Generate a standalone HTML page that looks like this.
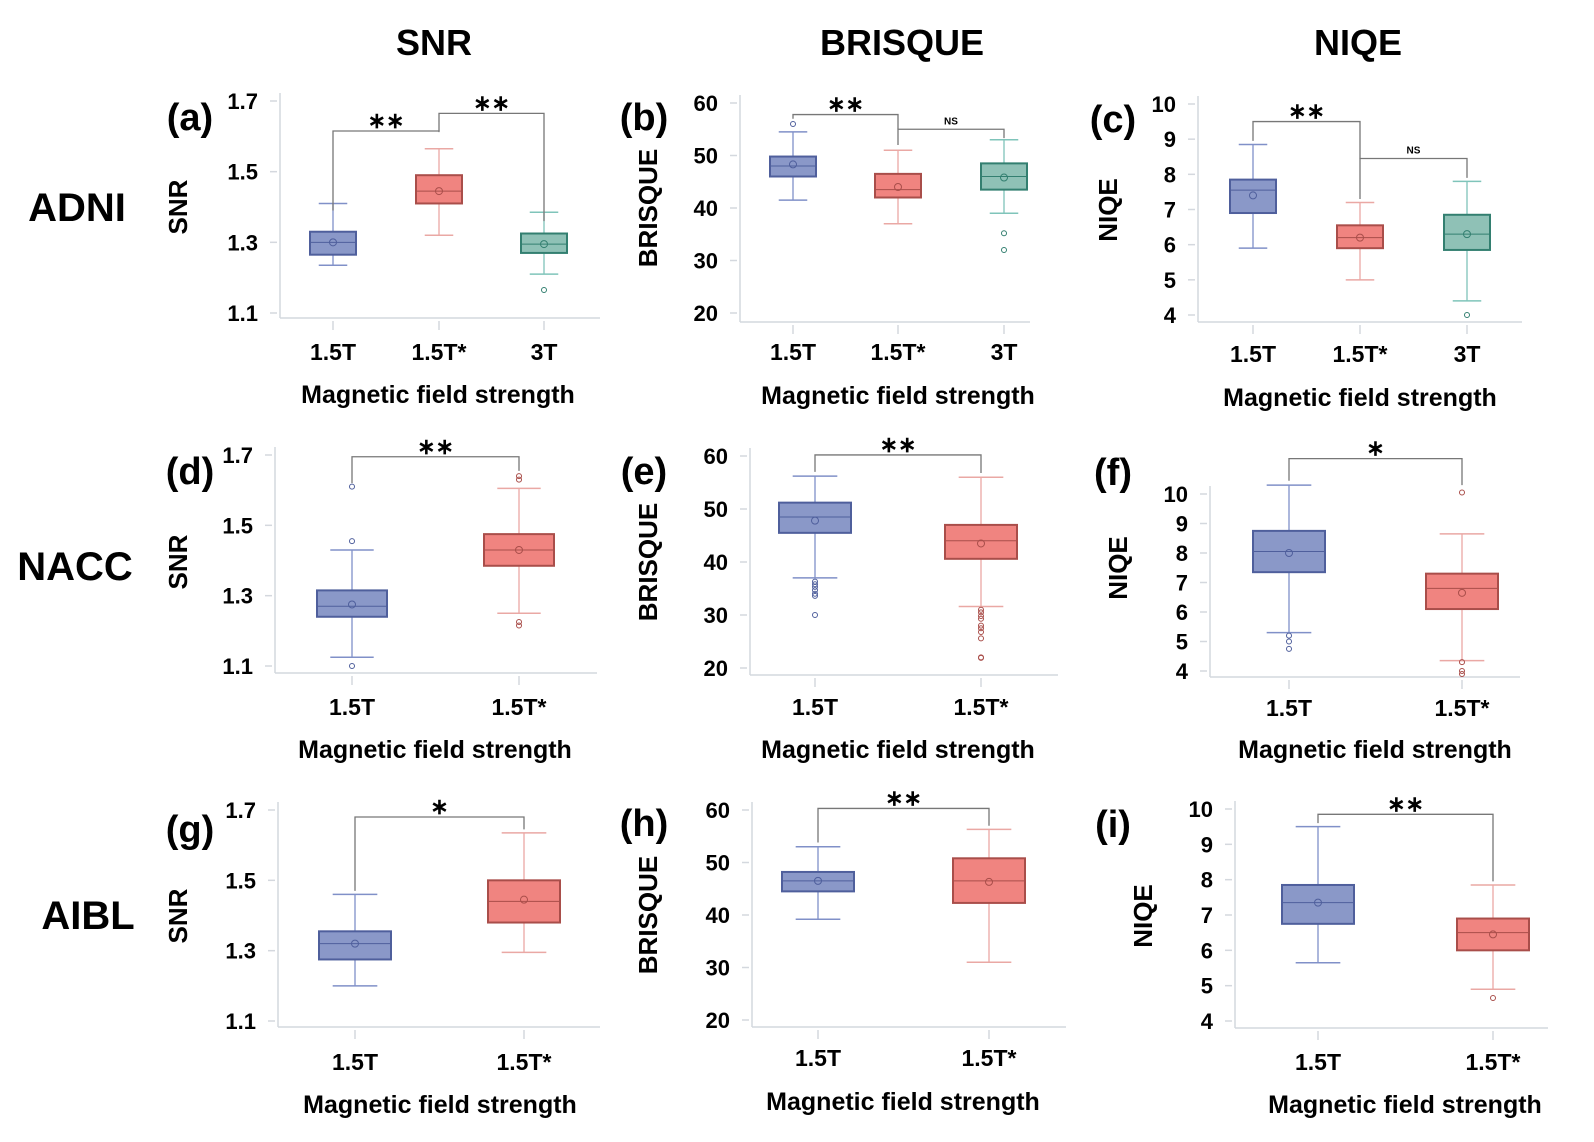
<!DOCTYPE html>
<html><head><meta charset="utf-8">
<style>
html,body{margin:0;padding:0;background:#fff;}
svg{display:block;font-family:"Liberation Sans",Arial,sans-serif;}
</style></head>
<body>
<svg id="fig" width="1594" height="1142" viewBox="0 0 1594 1142" xmlns="http://www.w3.org/2000/svg">
  <text x="434" y="55" text-anchor="middle" font-size="36" font-weight="bold">SNR</text>
  <text x="902" y="55" text-anchor="middle" font-size="36" font-weight="bold">BRISQUE</text>
  <text x="1358" y="55" text-anchor="middle" font-size="36" font-weight="bold">NIQE</text>
  <text x="77" y="221" text-anchor="middle" font-size="40" font-weight="bold">ADNI</text>
  <text x="75" y="580" text-anchor="middle" font-size="40" font-weight="bold">NACC</text>
  <text x="88" y="929" text-anchor="middle" font-size="40" font-weight="bold">AIBL</text>
</svg>
<script>
// ---- data ----
const catsA = ["1.5T","1.5T*","3T"];
const loA=[1.235,1.32,1.21], q1A=[1.265,1.41,1.27], medA=[1.30,1.445,1.295], q3A=[1.33,1.49,1.325], hiA=[1.41,1.565,1.385], meanA=[1.30,1.445,1.295];
const outA=[[],[],[1.165]];
const brA=[[0,1,1.615,1.39,1.612,"**"],[1,2,1.665,1.615,1.36,"**"]];

const catsB = ["1.5T","1.5T*","3T"];
const loB=[41.5,37,39], q1B=[46,42,43.5], medB=[48,43.5,46], q3B=[49.8,46.5,48.5], hiB=[54.5,51,53], meanB=[48.3,44,45.8];
const outB=[[56],[],[35.2,32]];
const brB=[[0,1,57.8,57,55,"**"],[1,2,55,52,53.3,"NS"]];

const catsC = ["1.5T","1.5T*","3T"];
const loC=[5.9,5.0,4.4], q1C=[6.9,5.9,5.85], medC=[7.55,6.2,6.3], q3C=[7.85,6.55,6.85], hiC=[8.85,7.2,7.8], meanC=[7.4,6.2,6.3];
const outC=[[],[],[4.0]];
const brC=[[0,1,9.5,8.95,8.45,"**"],[1,2,8.45,7.3,7.9,"NS"]];

const catsD = ["1.5T","1.5T*"];
const loD=[1.125,1.25], q1D=[1.24,1.385], medD=[1.27,1.43], q3D=[1.315,1.475], hiD=[1.43,1.605], meanD=[1.275,1.43];
const outD=[[1.455,1.61,1.10],[1.64,1.63,1.225,1.215]];
const brD=[[0,1,1.695,1.62,1.655,"**"]];

const catsE = ["1.5T","1.5T*"];
const loE=[37,31.6], q1E=[45.5,40.6], medE=[48.5,44], q3E=[51.2,47], hiE=[56.2,56], meanE=[47.8,43.5];
const outE=[[36.3,35.8,35.3,34.7,34,33.6,30],[31,30.5,29.8,29.3,28,27.5,26.8,25.6,22,21.9]];
const brE=[[0,1,60.2,57,56.8,"**"]];

const catsF = ["1.5T","1.5T*"];
const loF=[5.3,4.35], q1F=[7.35,6.1], medF=[8.05,6.8], q3F=[8.75,7.3], hiF=[10.3,8.65], meanF=[8.0,6.65];
const outF=[[5.2,5.0,4.75],[10.05,4.3,4.0,3.9]];
const brF=[[0,1,11.2,10.45,10.3,"*"]];

const catsG = ["1.5T","1.5T*"];
const loG=[1.2,1.295], q1G=[1.275,1.38], medG=[1.32,1.44], q3G=[1.355,1.5], hiG=[1.46,1.635], meanG=[1.32,1.445];
const outG=[[],[]];
const brG=[[0,1,1.68,1.47,1.645,"*"]];

const catsH = ["1.5T","1.5T*"];
const loH=[39.2,31], q1H=[44.5,42.3], medH=[46.5,46.5], q3H=[48.2,50.8], hiH=[53,56.3], meanH=[46.5,46.3];
const outH=[[],[]];
const brH=[[0,1,60.3,53.8,57,"**"]];

const catsI = ["1.5T","1.5T*"];
const loI=[5.65,4.9], q1I=[6.75,6.0], medI=[7.35,6.5], q3I=[7.85,6.9], hiI=[9.5,7.85], meanI=[7.35,6.45];
const outI=[[],[4.65]];
const brI=[[0,1,9.85,9.6,7.95,"**"]];

const ticksSNR=[1.1,1.3,1.5,1.7], ticksBR=[20,30,40,50,60], ticksNQ=[4,5,6,7,8,9,10];

// ---- layout (pixels) ----
const panels=[
 {id:"a",cats:catsA,lo:loA,q1:q1A,med:medA,q3:q3A,hi:hiA,mean:meanA,out:outA,br:brA,ticks:ticksSNR,fmt:1,ylabel:"SNR",
  v0:1.1,p0:313,v1:1.7,p1:101,ax:280,bottom:318,right:600,xs:[333,439,544],bw:46,lx:190,ly:116,tx:178,ty:207,xl:352,xt:395,xc:438},
 {id:"b",cats:catsB,lo:loB,q1:q1B,med:medB,q3:q3B,hi:hiB,mean:meanB,out:outB,br:brB,ticks:ticksBR,fmt:0,ylabel:"BRISQUE",
  v0:20,p0:313,v1:60,p1:103,ax:740,bottom:322,right:1030,xs:[793,898,1004],bw:46,lx:644,ly:116,tx:648,ty:208,xl:352,xt:396,xc:898},
 {id:"c",cats:catsC,lo:loC,q1:q1C,med:medC,q3:q3C,hi:hiC,mean:meanC,out:outC,br:brC,ticks:ticksNQ,fmt:0,ylabel:"NIQE",
  v0:4,p0:315,v1:10,p1:104,ax:1198,bottom:322,right:1522,xs:[1253,1360,1467],bw:46,lx:1113,ly:118,tx:1108,ty:210,xl:354,xt:398,xc:1360},
 {id:"d",cats:catsD,lo:loD,q1:q1D,med:medD,q3:q3D,hi:hiD,mean:meanD,out:outD,br:brD,ticks:ticksSNR,fmt:1,ylabel:"SNR",
  v0:1.1,p0:666,v1:1.7,p1:455,ax:275,bottom:673,right:597,xs:[352,519],bw:70,lx:190,ly:470,tx:178,ty:562,xl:707,xt:750,xc:435},
 {id:"e",cats:catsE,lo:loE,q1:q1E,med:medE,q3:q3E,hi:hiE,mean:meanE,out:outE,br:brE,ticks:ticksBR,fmt:0,ylabel:"BRISQUE",
  v0:20,p0:668,v1:60,p1:456,ax:750,bottom:675,right:1058,xs:[815,981],bw:72,lx:644,ly:470,tx:648,ty:562,xl:707,xt:750,xc:898},
 {id:"f",cats:catsF,lo:loF,q1:q1F,med:medF,q3:q3F,hi:hiF,mean:meanF,out:outF,br:brF,ticks:ticksNQ,fmt:0,ylabel:"NIQE",
  v0:4,p0:671,v1:10,p1:494,ax:1210,bottom:677,right:1520,xs:[1289,1462],bw:72,lx:1113,ly:471,tx:1118,ty:568,xl:708,xt:750,xc:1375},
 {id:"g",cats:catsG,lo:loG,q1:q1G,med:medG,q3:q3G,hi:hiG,mean:meanG,out:outG,br:brG,ticks:ticksSNR,fmt:1,ylabel:"SNR",
  v0:1.1,p0:1021,v1:1.7,p1:810,ax:278,bottom:1027,right:600,xs:[355,524],bw:72,lx:190,ly:828,tx:178,ty:916,xl:1062,xt:1105,xc:440},
 {id:"h",cats:catsH,lo:loH,q1:q1H,med:medH,q3:q3H,hi:hiH,mean:meanH,out:outH,br:brH,ticks:ticksBR,fmt:0,ylabel:"BRISQUE",
  v0:20,p0:1020,v1:60,p1:810,ax:752,bottom:1027,right:1066,xs:[818,989],bw:72,lx:644,ly:822,tx:648,ty:915,xl:1058,xt:1102,xc:903},
 {id:"i",cats:catsI,lo:loI,q1:q1I,med:medI,q3:q3I,hi:hiI,mean:meanI,out:outI,br:brI,ticks:ticksNQ,fmt:0,ylabel:"NIQE",
  v0:4,p0:1021,v1:10,p1:809,ax:1235,bottom:1028,right:1548,xs:[1318,1493],bw:72,lx:1113,ly:823,tx:1143,ty:916,xl:1062,xt:1105,xc:1405}
];
const colors=[
 {fill:"#8a98c8",stroke:"#4f5f9c",wh:"#8090c8"},
 {fill:"#f08480",stroke:"#a94e4a",wh:"#eaa8a4"},
 {fill:"#8fc1b6",stroke:"#337f70",wh:"#7fc4ba"}
];
const NS="http://www.w3.org/2000/svg";
const svg=document.getElementById("fig");
function mk(tag,attrs,parent){const e=document.createElementNS(NS,tag);for(const k in attrs)e.setAttribute(k,attrs[k]);(parent||svg).appendChild(e);return e;}

panels.forEach(p=>{
  const y=v=>p.p0+(v-p.v0)*(p.p1-p.p0)/(p.v1-p.v0);
  const g=mk("g",{});
  
  
  const lab=mk("text",{x:p.lx,y:p.ly+14,"text-anchor":"middle","font-size":38,"font-weight":"bold"},g);
  lab.textContent="("+p.id+")";
  
  
  const yt=mk("text",{x:p.tx+9,y:p.ty,"text-anchor":"middle","font-size":26,"font-weight":"bold",transform:"rotate(-90 "+(p.tx+9)+" "+p.ty+")"},g);
  yt.textContent=p.ylabel;
  
  
  const topPx=Math.min(y(p.v1),p.p1)-8;
  const yax=mk("line",{x1:p.ax,y1:topPx,x2:p.ax,y2:p.bottom,stroke:"#d4d8de","stroke-width":1.5},g);
  
  
  const xax=mk("line",{x1:p.ax,y1:p.bottom,x2:p.right,y2:p.bottom,stroke:"#d4d8de","stroke-width":1.5},g);
  
  
  p.ticks.forEach(t=>{
    const ty=y(t);
    const tk=mk("line",{x1:p.ax-10,y1:ty,x2:p.ax-3,y2:ty,stroke:"#d4d8de","stroke-width":1.5},g);
    
    
    const tl=mk("text",{x:p.ax-22,y:ty+8,"text-anchor":"end","font-size":22,"font-weight":"bold"},g);
    tl.textContent=t.toFixed(p.fmt);
    
    
  });
  p.cats.forEach((c,i)=>{
    const cx=p.xs[i], col=colors[i], bw=p.bw, cap=bw*0.62;
    const xt=mk("line",{x1:cx,y1:p.bottom+3,x2:cx,y2:p.bottom+12,stroke:"#d4d8de","stroke-width":1.5},g);
    
    
    const xl=mk("text",{x:cx,y:p.xl+8,"text-anchor":"middle","font-size":23,"font-weight":"bold"},g);
    xl.textContent=c;
    
    
    const bg=mk("g",{},g);
    
    
    mk("line",{x1:cx,y1:y(p.hi[i]),x2:cx,y2:y(p.q3[i]),stroke:col.wh,"stroke-width":1.3},bg);
    mk("line",{x1:cx,y1:y(p.lo[i]),x2:cx,y2:y(p.q1[i]),stroke:col.wh,"stroke-width":1.3},bg);
    mk("line",{x1:cx-cap/2,y1:y(p.hi[i]),x2:cx+cap/2,y2:y(p.hi[i]),stroke:col.wh,"stroke-width":1.5},bg);
    mk("line",{x1:cx-cap/2,y1:y(p.lo[i]),x2:cx+cap/2,y2:y(p.lo[i]),stroke:col.wh,"stroke-width":1.5},bg);
    mk("rect",{x:cx-bw/2,y:y(p.q3[i]),width:bw,height:y(p.q1[i])-y(p.q3[i]),fill:col.fill,stroke:col.stroke,"stroke-width":2},bg);
    mk("line",{x1:cx-bw/2,y1:y(p.med[i]),x2:cx+bw/2,y2:y(p.med[i]),stroke:col.stroke,"stroke-width":1},bg);
    mk("circle",{cx:cx,cy:y(p.mean[i]),r:3.5,fill:"none",stroke:col.stroke,"stroke-width":1},bg);
    p.out[i].forEach(o=>{
      const oc=mk("circle",{cx:cx,cy:y(o),r:2.5,fill:"none",stroke:col.stroke,"stroke-width":1},bg);
      
      
    });
  });
  p.br.forEach(b=>{
    const [i,j,lv,le,re,txt]=b;
    const x1=p.xs[i], x2=p.xs[j], by=y(lv);
    const pl=mk("polyline",{points:`${x1},${y(le)} ${x1},${by} ${x2},${by} ${x2},${y(re)}`,fill:"none",stroke:"#777","stroke-width":1.3},g);
    
    
    const st=mk("text",{x:(x1+x2)/2,y:txt==="NS"?by-5:by-3,"text-anchor":"middle","font-size":txt==="NS"?10:22,"font-weight":"bold"},g);
    st.textContent=txt==="NS"?"NS":txt.replace(/\*/g,"∗");
    
    
  });
  const xt2=mk("text",{x:p.xc,y:p.xt+8,"text-anchor":"middle","font-size":25,"font-weight":"bold"},g);
  xt2.textContent="Magnetic field strength";
  
  
});
</script>
</body></html>
